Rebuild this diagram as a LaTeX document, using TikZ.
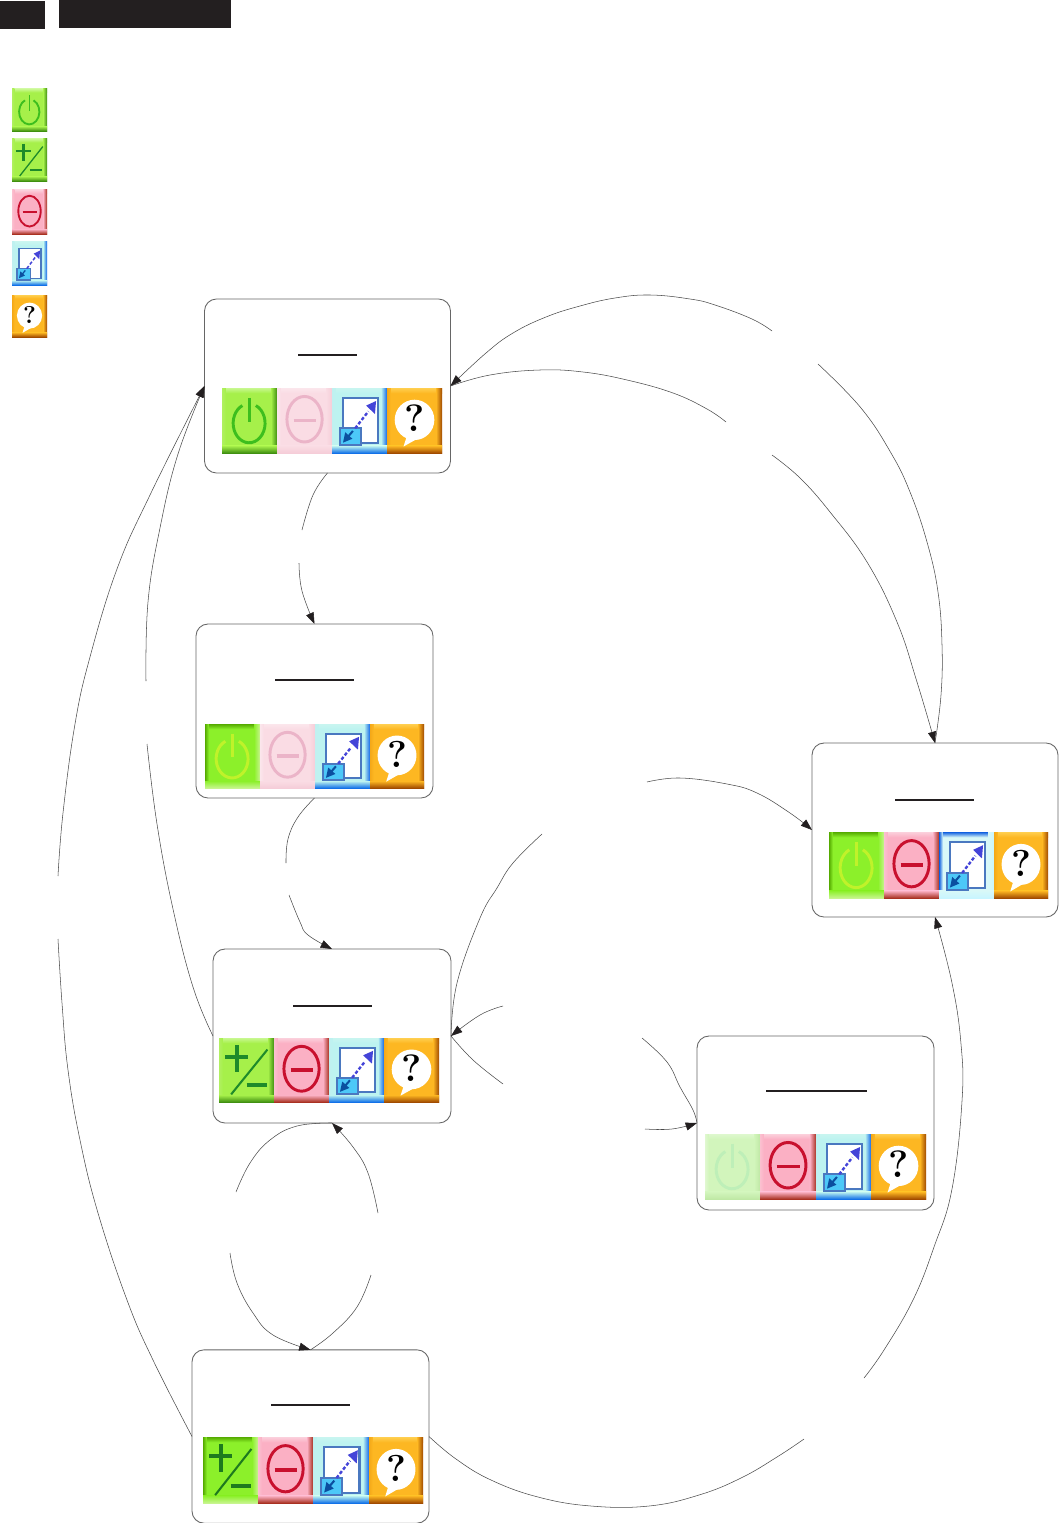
\documentclass[tikz,border=0pt]{standalone}
\usetikzlibrary{arrows.meta}
\def\defset#1#2#3#4#5#6#7{%
  \definecolor{#1-b}{HTML}{#2}\definecolor{#1-t}{HTML}{#3}\definecolor{#1-l}{HTML}{#4}%
  \definecolor{#1-r}{HTML}{#5}\definecolor{#1-d}{HTML}{#6}\definecolor{#1-s}{HTML}{#7}}
\defset{pwA}{A6F04A}{C8F890}{B0F060}{3F8F10}{3F8F10}{3DBE1E}
\defset{pwB}{8CF02A}{55AA00}{55AA00}{C8F590}{C8F590}{C0F22A}
\defset{pwC}{D2F5BC}{DEF8CE}{E0F8D0}{BFE8A5}{BFE8A5}{BEEFB8}
\defset{pmA}{A6F04A}{C8F890}{B0F060}{3F8F10}{3F8F10}{1E8A2A}
\defset{pmB}{8CF02A}{55AA00}{55AA00}{C8F590}{C8F590}{1E7A1E}
\defset{miA}{FBB0C4}{FBD0DC}{FBC0D0}{A83020}{A83020}{C8102E}
\defset{miB}{FADCE4}{FBE6EC}{FBE6EC}{F5CDD8}{F5CDD8}{EBB4C8}
\defset{szA}{BDF3F0}{C8F5F0}{C0F0F0}{0F66E8}{1070E8}{4A78C0}
\defset{szB}{D8F8F8}{1060E0}{1060E0}{C8F5FF}{C8F5FF}{4A78C0}
\defset{hpA}{FDB722}{FFCF50}{F4A818}{A04A00}{A04A00}{000000}
\definecolor{inkblack}{HTML}{231F20}
\definecolor{linegray}{HTML}{4A4A4A}
\definecolor{boxgray}{HTML}{666666}
\definecolor{smallbox}{HTML}{4CC8F8}
\definecolor{smallarrow}{HTML}{0B4FA0}
\definecolor{bigarrow}{HTML}{4444D8}
\tikzset{
  statebox/.style={draw=boxgray,line width=.65pt,rounded corners=9pt,fill=none,inner sep=0pt,outer sep=0pt},
  wire/.style={draw=linegray,line width=.4pt},
  tipped/.style={wire,-{Triangle[length=8.5pt,width=6pt,inkblack]}},
  titlerule/.style={draw=inkblack,line width=1.1pt},
  headblock/.style={fill=inkblack,draw=none},
}
\newcounter{icoq}
\newcommand{\IcoBegin}[5]{%
  \pgfmathsetlengthmacro\iux{#3*.0075pt}%
  \pgfmathsetlengthmacro\iuy{-#4*.0075pt}%
  \pgfmathsetlengthmacro\ilw{#3*.04pt}%
  \begin{scope}[shift={(#1,#2)},x=\iux,y=\iuy]
  \fill[#5-b] (0,0) rectangle (100,100);
  \shade[top color=#5-t,bottom color=#5-b] (0,0) rectangle (100,8);
  \shade[left color=#5-l,right color=#5-b] (0,0) rectangle (7,100);
  \shade[left color=#5-b,right color=#5-r] (89,0) rectangle (100,100);
  \shade[top color=#5-b,bottom color=#5-d] (0,89) rectangle (100,100);
}
\newcommand{\IcoPower}[5]{\IcoBegin{#1}{#2}{#3}{#4}{#5}
  \draw[#5-s,line width=\ilw] (61.5,27) arc[start angle=-65,end angle=245,x radius=29,y radius=30];
  \draw[#5-s,line width=\ilw] (50,15) -- (50,52);
  \end{scope}}
\newcommand{\IcoPM}[5]{\IcoBegin{#1}{#2}{#3}{#4}{#5}
  \draw[#5-s,line width=1.4*\ilw] (11,29) -- (53,29) (32,11) -- (32,53);
  \draw[#5-s,line width=.7*\ilw] (22,88) -- (88,18);
  \draw[#5-s,line width=1.4*\ilw] (50,74) -- (87,74);
  \end{scope}}
\newcommand{\IcoMinus}[5]{\IcoBegin{#1}{#2}{#3}{#4}{#5}
  \draw[#5-s,line width=\ilw] (50,48) ellipse[x radius=32,y radius=35];
  \draw[#5-s,line width=1.2*\ilw] (30,50) -- (71,50);
  \end{scope}}
\newcommand{\IcoSize}[5]{\IcoBegin{#1}{#2}{#3}{#4}{#5}
  \fill[white] (20,15) rectangle (83,85);
  \draw[#5-s,line width=.7*\ilw] (20,15) rectangle (83,85);
  \draw[#5-s,fill=smallbox,line width=.7*\ilw] (14,62) rectangle (52,88);
  \draw[bigarrow,line width=.8*\ilw,dash pattern=on 2.5pt off 1.5pt] (42,62) -- (66,36);
  \fill[bigarrow] (80,20) -- (78,40) -- (62,27) -- cycle;
  \fill[smallarrow] (20,84) -- (24,68) -- (37,78) -- cycle;
  \draw[smallarrow,line width=.7*\ilw] (26,78) -- (38,66);
  \end{scope}}
\newcommand{\IcoHelp}[5]{\IcoBegin{#1}{#2}{#3}{#4}{#5}
  \fill[white] (50,49) ellipse[x radius=36,y radius=31];
  \fill[white] (36,74) -- (30,90) -- (55,78) -- cycle;
  \stepcounter{icoq}%
  \pgfmathsetmacro\ifs{#3*.52}%
  \node[inner sep=0pt,text=black] (q\arabic{icoq}) at (50,47) {\fontsize{\ifs pt}{\ifs pt}\selectfont\bfseries ?};
  \end{scope}}
\begin{document}
\begin{tikzpicture}[x=.75pt,y=-.75pt]
\useasboundingbox (0,0) rectangle (1058,1523);
\fill[white] (0,0) rectangle (1058,1523);
% header blocks
\fill[headblock] (0,1) rectangle (45,29);
\fill[headblock] (59,0) rectangle (231,28);
% legend
\IcoPower{12}{89}{35}{42}{pwA}
\IcoPM{12}{139}{35}{42}{pmA}
\IcoMinus{12}{190}{35}{44}{miA}
\IcoSize{12}{242}{35}{43}{szA}
\IcoHelp{12}{295}{35}{42}{hpA}
% state boxes
\node[statebox,minimum width=184.5pt,minimum height=130.5pt] (b1) at (327.5,386) {};
\node[statebox,minimum width=177.75pt,minimum height=130.5pt] (b2) at (314.5,711) {};
\node[statebox,minimum width=178.5pt,minimum height=130.5pt] (b3) at (332,1036) {};
\node[statebox,minimum width=184.5pt,minimum height=130.5pt] (b4) at (935,830) {};
\node[statebox,minimum width=177.75pt,minimum height=130.5pt] (b5) at (815.5,1123) {};
\node[statebox,minimum width=177.75pt,minimum height=130pt] (b6) at (310.5,1436.5) {};
% title rules
\draw[titlerule] (298,355) -- (357,355);
\draw[titlerule] (275,680) -- (354,680);
\draw[titlerule] (293,1006) -- (372,1006);
\draw[titlerule] (895,800) -- (974,800);
\draw[titlerule] (766,1091) -- (867,1091);
\draw[titlerule] (271,1405) -- (350,1405);
% icons in boxes
\IcoPower{222}{388}{55}{65}{pwA}\IcoMinus{277}{388}{55}{65}{miB}\IcoSize{332}{388}{55}{65}{szA}\IcoHelp{387}{388}{55}{65}{hpA}
\IcoPower{205}{724}{55}{64}{pwB}\IcoMinus{260}{724}{55}{64}{miB}\IcoSize{315}{724}{55}{64}{szA}\IcoHelp{370}{724}{54}{64}{hpA}
\IcoPM{219}{1038}{55}{64}{pmA}\IcoMinus{274}{1038}{55}{64}{miA}\IcoSize{329}{1038}{55}{64}{szA}\IcoHelp{384}{1038}{55}{64}{hpA}
\IcoPower{829}{832}{55}{66}{pwB}\IcoMinus{884}{832}{55}{66}{miA}\IcoSize{939}{832}{55}{66}{szB}\IcoHelp{994}{832}{54}{66}{hpA}
\IcoPower{705}{1134}{55}{65}{pwC}\IcoMinus{760}{1134}{56}{65}{miA}\IcoSize{816}{1134}{55}{65}{szA}\IcoHelp{871}{1134}{55}{65}{hpA}
\IcoPM{203}{1437}{55}{66}{pmB}\IcoMinus{258}{1437}{55}{66}{miA}\IcoSize{313}{1437}{56}{66}{szA}\IcoHelp{369}{1437}{54}{66}{hpA}
% free ends of the connector pieces
\coordinate (ga1) at (772,331);  \coordinate (ga2) at (818,364);
\coordinate (gb1) at (726,422);  \coordinate (gb2) at (772,455);
\coordinate (gc1) at (542,834);  \coordinate (gc2) at (647,782);
\coordinate (gd1) at (642,1038); \coordinate (gd2) at (503,1006);
\coordinate (ge1) at (503,1084); \coordinate (ge2) at (645,1129);
\coordinate (gf1) at (804,1439); \coordinate (gf2) at (864,1378);
\coordinate (gg1) at (302,530);  \coordinate (gg2) at (299,563);
\coordinate (gh1) at (286,863);  \coordinate (gh2) at (289,895);
\coordinate (gi1) at (147,744);  \coordinate (gi2) at (146,681);
\coordinate (gj1) at (58,939);   \coordinate (gj2) at (58,876);
\coordinate (gk1) at (236,1192); \coordinate (gk2) at (230,1253);
\coordinate (gl1) at (371,1275); \coordinate (gl2) at (378,1213);
% connectors
\tikzset{every plot/.style={smooth,tension=.7}}
\draw[wire] plot coordinates {(b4.north) (941,695) (942,645) (938,592) (927,542) (910,492) (891,453) (861,408) (ga2)};
\draw[tipped] plot coordinates {(ga1) (752,319) (715,305) (690,299) (650,295) (615,298) (580,306) (546,317) (513,333) (486,353) (b1.east)};
\draw[wire] plot coordinates {(b1.east) (490,375) (540,370) (583,372) (627,380) (673,393) (707,409) (gb1)};
\draw[tipped] plot coordinates {(gb2) (800,478) (830,512) (867,562) (897,622) (917,682) (b4.north)};
\draw[wire] plot coordinates {(b3.east) (457,983) (480,918) (497,888) (513,863) (gc1)};
\draw[tipped] plot coordinates {(gc2) (680,778) (727,784) (757,793) (790,813) (b4.west)};
\draw[wire] plot coordinates {(b5.west) (693,1110) (680,1087) (667,1062) (gd1)};
\draw[tipped] plot coordinates {(gd2) (480,1015) (b3.east)};
\draw[wire] plot coordinates {(b3.east) (473,1060) (ge1)};
\draw[tipped] plot coordinates {(ge2) (672,1129) (b5.west)};
\draw[wire] plot coordinates {(b6.east) (456,1459) (491,1480) (538,1497) (591,1506) (649,1506) (699,1495) (741,1478) (777,1457) (gf1)};
\draw[tipped] plot coordinates {(gf2) (884,1350) (913,1300) (934,1247) (952,1189) (962,1101) (961,1044) (952,983) (b4.south)};
\draw[wire] plot coordinates {(b1.south) (313,495) (gg1)};
\draw[tipped] plot coordinates {(gg2) (302,591) (b2.north)};
\draw[wire] plot coordinates {(b2.south) (298,817) (288,839) (gh1)};
\draw[tipped] plot coordinates {(gh2) (300,922) (308,935) (b3.north)};
\draw[wire] plot coordinates {(b3.west) (193,987) (173,909) (157,824) (gi1)};
\draw[tipped] plot coordinates {(gi2) (148,602) (160,528) (178,454) (b1.west)};
\draw[wire] plot coordinates {(b6.west) (153,1360) (127,1300) (98,1213) (80,1140) (68,1070) (62,1003) (gj1)};
\draw[tipped] plot coordinates {(gj2) (63,813) (75,724) (90,657) (117,569) (150,495) (b1.west)};
\draw[wire] plot coordinates {(b3.south) (297,1126) (270,1140) (250,1163) (gk1)};
\draw[tipped] plot coordinates {(gk2) (237,1283) (253,1313) (273,1335) (b6.north)};
\draw[wire] plot coordinates {(b6.north) (333,1333) (357,1307) (gl1)};
\draw[tipped] plot coordinates {(gl2) (368,1173) (353,1147) (b3.south)};
\end{tikzpicture}
\end{document}
